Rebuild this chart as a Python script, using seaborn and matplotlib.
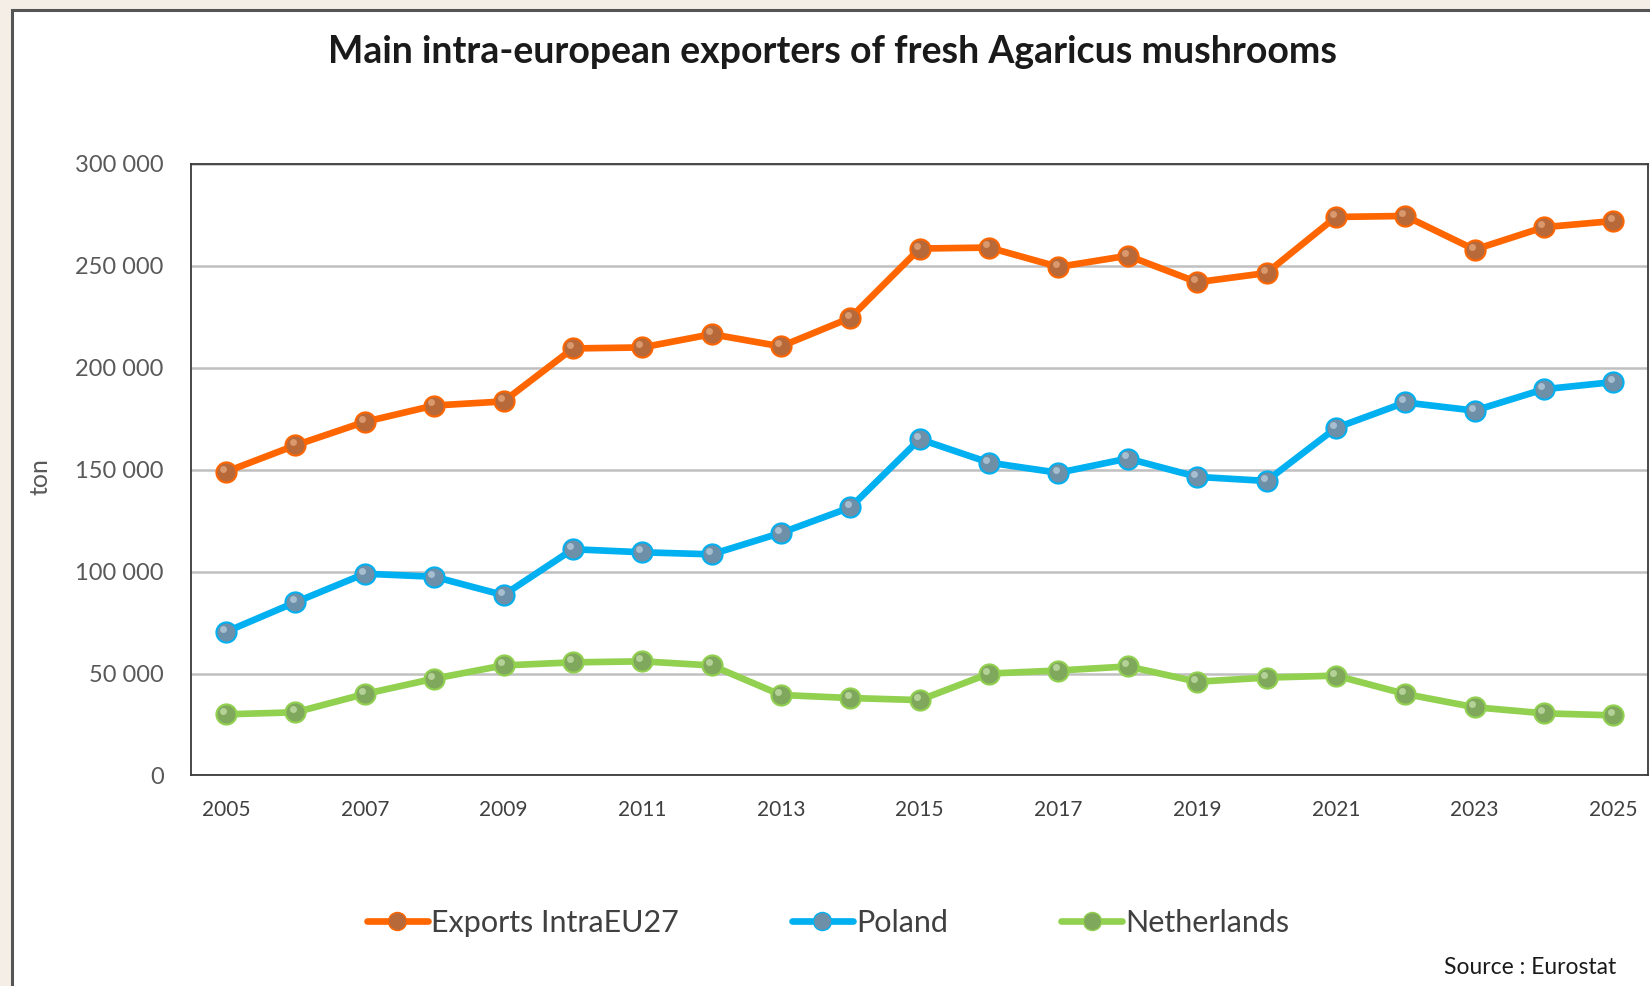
import numpy as np
import pandas as pd
import matplotlib
matplotlib.use("Agg")
import matplotlib.pyplot as plt
import matplotlib.patches as patches
from matplotlib.lines import Line2D
import seaborn as sns

# data (tonnes)
years = list(range(2005, 2026))
exports_eu27 = [149000, 162000, 173500, 181500, 183500, 209500, 210000, 216500, 210500, 224500,
                258500, 259000, 249500, 255000, 242000, 246500, 274000, 274500, 258000, 269000, 272000]
poland = [70500, 85000, 99000, 97500, 88500, 111000, 109500, 108500, 119000, 131500,
          165000, 153500, 148500, 155500, 146500, 144500, 170500, 183000, 179000, 189500, 193000]
netherlands = [30000, 31000, 40000, 47500, 54000, 55500, 56000, 54000, 39500, 38000,
               37000, 50000, 51500, 53500, 46000, 48000, 49000, 40000, 33500, 30500, 29500]
series_names = ["Exports IntraEU27", "Poland", "Netherlands"]
y_ticks = [0, 50000, 100000, 150000, 200000, 250000, 300000]

line_colors = {"Exports IntraEU27": "#FF6600", "Poland": "#00B0F0", "Netherlands": "#92D050"}
ball_colors = {"Exports IntraEU27": "#B8693A", "Poland": "#6E8FA8", "Netherlands": "#7FA85C"}
ball_light = {"Exports IntraEU27": "#E3A57A", "Poland": "#B5CBDB", "Netherlands": "#C2DDA8"}

df = pd.DataFrame({"year": years * 3,
                   "value": exports_eu27 + poland + netherlands,
                   "series": [s for s in series_names for _ in years]})

sns.set_style("white")
plt.rcParams["font.family"] = ["Lato", "DejaVu Sans"]

fig = plt.figure(figsize=(16.5, 9.86), dpi=100)
fig.patch.set_facecolor("#F4EEE7")

# white panel with dark frame (runs off the right/bottom edge)
frame = patches.Rectangle((12 / 1650, -0.1), 1.2, (986 - 10) / 986 + 0.1,
                          transform=fig.transFigure, facecolor="white",
                          edgecolor="#555555", linewidth=2.2, zorder=-5)
fig.patches.append(frame)

ax = fig.add_axes([0.116, 0.2135, 0.8828, 0.6202])
ax.set_facecolor("white")

sns.lineplot(data=df, x="year", y="value", hue="series", palette=line_colors,
             linewidth=4.8, legend=False, ax=ax, zorder=3)
for s in series_names:
    sub = df[df["series"] == s]
    ax.plot(sub["year"], sub["value"], linestyle="none", marker="o", markersize=14.5,
            markerfacecolor=ball_colors[s], markeredgecolor=line_colors[s],
            markeredgewidth=1.5, zorder=4)
    ax.plot(sub["year"] - 0.04, sub["value"] + 1500, linestyle="none", marker="o",
            markersize=5, markerfacecolor=ball_light[s], markeredgewidth=0, alpha=0.8, zorder=5)

ax.set_xlim(2004.5, 2025.5)
ax.set_ylim(0, 300000)
ax.set_xticks(years[::2])
ax.set_xticklabels([str(y) for y in years[::2]])
ax.set_yticks(y_ticks)
ax.set_yticklabels([f"{v:,}".replace(",", " ") for v in y_ticks])
ax.tick_params(axis="y", length=0, pad=20, labelsize=17, labelcolor="#595959")
ax.tick_params(axis="x", length=0, pad=18, labelsize=15, labelcolor="#404040")
ax.yaxis.grid(True, color="#C0C0C0", linewidth=1.8, zorder=0)
ax.xaxis.grid(False)
for sp in ax.spines.values():
    sp.set_visible(True)
    sp.set_color("#3A3A3A")
    sp.set_linewidth(1.3)
ax.set_xlabel("")
ax.set_ylabel("")

fig.text(40 / 1650, 1 - 477 / 986, "ton", rotation=90, ha="center", va="center",
         fontsize=18, color="#595959")
fig.text(832 / 1650, 1 - 52 / 986, "Main intra-european exporters of fresh Agaricus mushrooms",
         ha="center", va="center", fontsize=27, fontweight="bold", color="#1A1A1A")
fig.text(1616 / 1650, 1 - 968 / 986, "Source : Eurostat", ha="right", va="center",
         fontsize=16.5, color="#1A1A1A")

handles = [Line2D([0], [0], color=line_colors[s], linewidth=4.8, marker="o", markersize=13,
                  markerfacecolor=ball_colors[s], markeredgecolor=line_colors[s])
           for s in series_names]
fig.legend(handles, series_names, loc="center", bbox_to_anchor=(828 / 1650, 1 - 923 / 986),
           ncol=3, frameon=False, fontsize=22, labelcolor="#404040",
           handlelength=2.0, handletextpad=0.1, columnspacing=3.7)

fig.savefig("out.png", dpi=100, facecolor=fig.get_facecolor())
